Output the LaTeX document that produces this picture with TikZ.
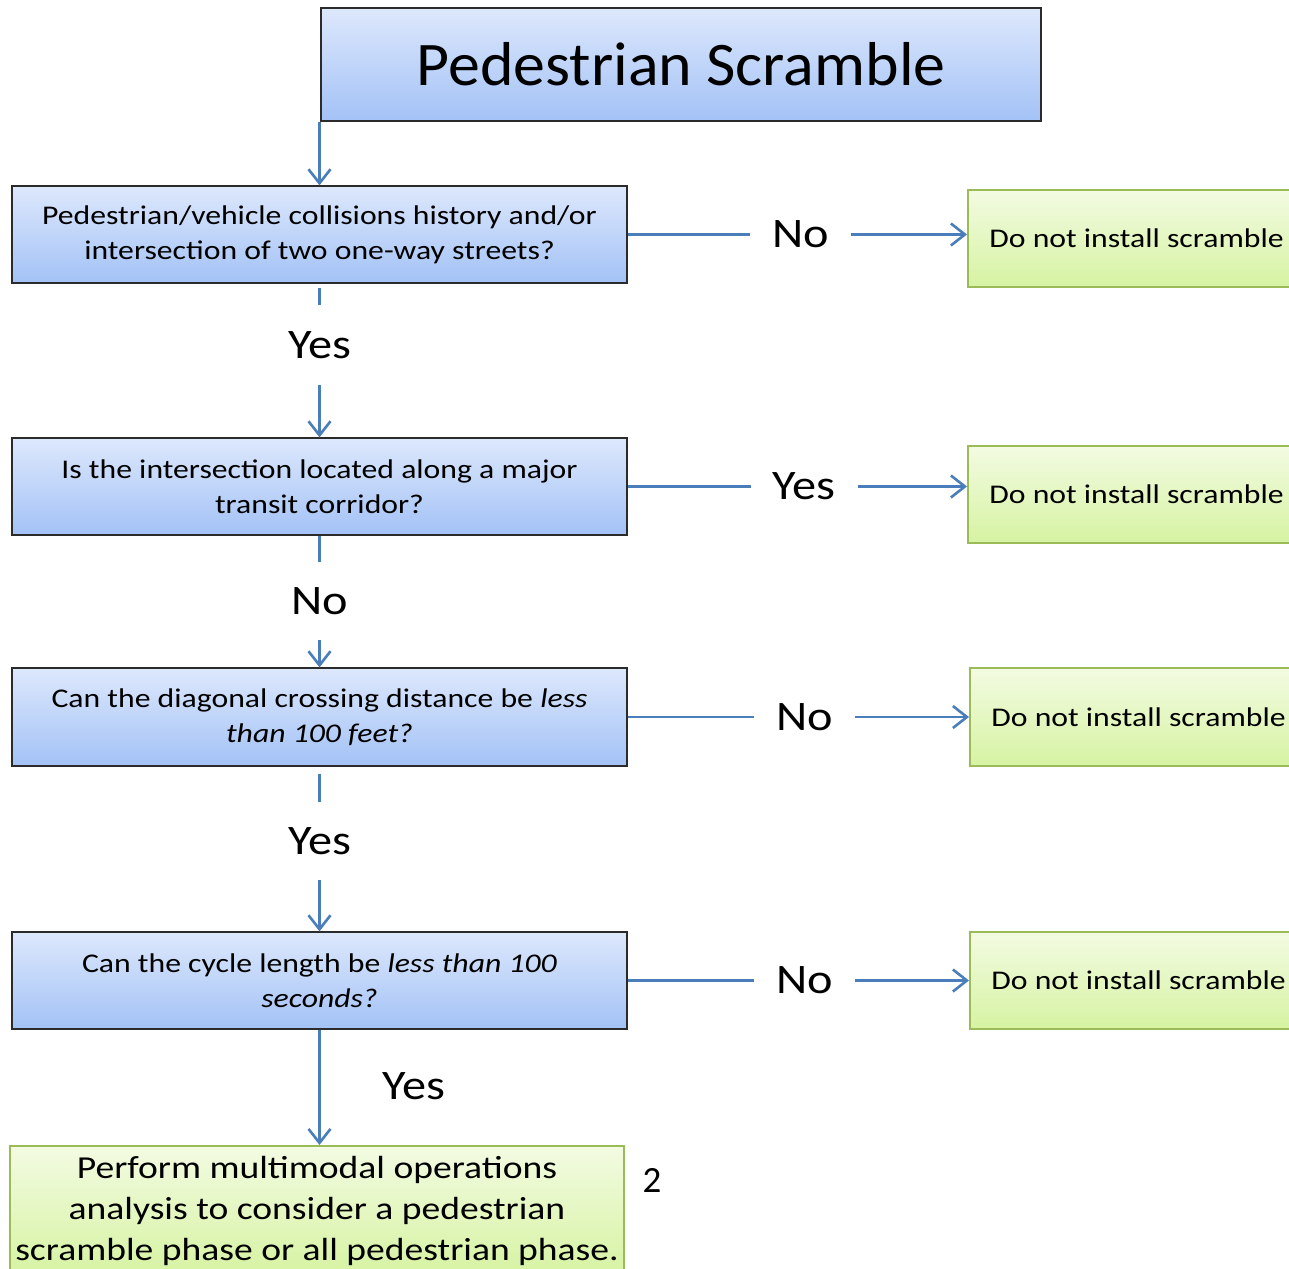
\documentclass[tikz,border=0pt]{standalone}
\usepackage{fontspec}
\setmainfont{Carlito}[FakeStretch=1.175]
\newfontfamily\titlefont{Carlito}[FakeStretch=1.03]
\newfontfamily\labelfont{Carlito}[FakeStretch=1.15]
\newfontfamily\numfont{Carlito}
\usetikzlibrary{arrows.meta}
\definecolor{qtop}{HTML}{DDE8FC}
\definecolor{qbot}{HTML}{A3C2F6}
\definecolor{qline}{HTML}{2B2B2B}
\definecolor{gtop}{HTML}{F3FBE2}
\definecolor{gbot}{HTML}{D6F3A2}
\definecolor{gline}{HTML}{9BBB59}
\definecolor{connblue}{HTML}{4A7EBB}

\begin{document}
\begin{tikzpicture}[x=1pt,y=-1pt,
  qbox/.style={draw=qline, line width=1.3pt, top color=qtop, bottom color=qbot,
    minimum width=615pt, minimum height=97pt, align=center, inner sep=0pt,
    font=\fontsize{27}{35}\selectfont},
  gbox/.style={draw=gline, line width=2pt, top color=gtop, bottom color=gbot,
    minimum width=337pt, minimum height=97pt, inner sep=0pt,
    font=\fontsize{27}{35}\selectfont},
  link/.style={draw=connblue, line width=2.6pt,
    -{Straight Barb[length=14pt,width=22pt]}},
  hlab/.style={fill=white, inner xsep=22pt, inner ysep=0pt,
    font=\labelfont\fontsize{42}{50}\selectfont},
  vlab/.style={fill=white, inner xsep=4pt, inner ysep=0pt, minimum height=78pt,
    font=\labelfont\fontsize{42}{50}\selectfont},
  plainlab/.style={inner sep=0pt, font=\labelfont\fontsize{42}{50}\selectfont}
]
\useasboundingbox (0,0) rectangle (1289,1268);
\clip (0,0) rectangle (1289,1268);

% title
\node[qbox, minimum width=720pt, minimum height=113pt,
      font=\titlefont\fontsize{62}{70}\selectfont] (title) at (681,64.5) {Pedestrian Scramble};

% questions
\node[qbox] (q1) at (319.5,234.5) {Pedestrian/vehicle collisions history and/or\\intersection of two one-way streets?};
\node[qbox] (q2) at (319.5,486.5) {Is the intersection located along a major\\transit corridor?};
\node[qbox, minimum height=98pt] (q3) at (319.5,717) {Can the diagonal crossing distance be \textit{less}\\\textit{than 100 feet?}};
\node[qbox] (q4) at (319.5,980.5) {Can the cycle length be \textit{less than 100}\\\textit{seconds?}};

% outcomes on the right
\node[gbox] (g1) at (1136.5,238.5) {Do not install scramble};
\node[gbox] (g2) at (1136.5,494.5) {Do not install scramble};
\node[gbox, minimum height=98pt] (g3) at (1138.5,717) {Do not install scramble};
\node[gbox] (g4) at (1138.5,980.5) {Do not install scramble};

% final outcome
\node[draw=gline, line width=2pt, top color=gtop, bottom color=gbot,
      minimum width=614pt, inner xsep=0pt, inner ysep=10pt, align=center, anchor=north,
      font=\fontsize{32}{41}\selectfont] (final) at (317,1145)
  {Perform multimodal operations\\analysis to consider a pedestrian\\scramble phase or all pedestrian phase.};
\node[inner sep=0pt, font=\numfont\fontsize{37}{44}\selectfont] (pagenum) at (652,1180) {2};

% vertical flow
\draw[link] (title.south -| q1.north) -- (q1.north);
\draw[link, shorten <=4pt] (q1.south) -- node[vlab, pos=0.40, minimum height=80pt] {Yes} (q2.north);
\draw[link] (q2.south) -- node[vlab, pos=0.496] {No} (q3.north);
\draw[link, shorten <=7pt] (q3.south) -- node[vlab, pos=0.452] {Yes} (q4.north);
\draw[link] (q4.south) -- (q4.south |- final.north);
\node[plainlab] (yeslast) at (414,1086) {Yes};

% branches to the right
\draw[link] (q1.east) -- node[hlab, pos=0.509] {No} (q1.east -| g1.west);
\draw[link] (q2.east) -- node[hlab, pos=0.52] {Yes} (q2.east -| g2.west);
\draw[link] (q3.east) -- node[hlab, pos=0.519] {No} (q3.east -| g3.west);
\draw[link] (q4.east) -- node[hlab, pos=0.519] {No} (q4.east -| g4.west);
\end{tikzpicture}
\end{document}
